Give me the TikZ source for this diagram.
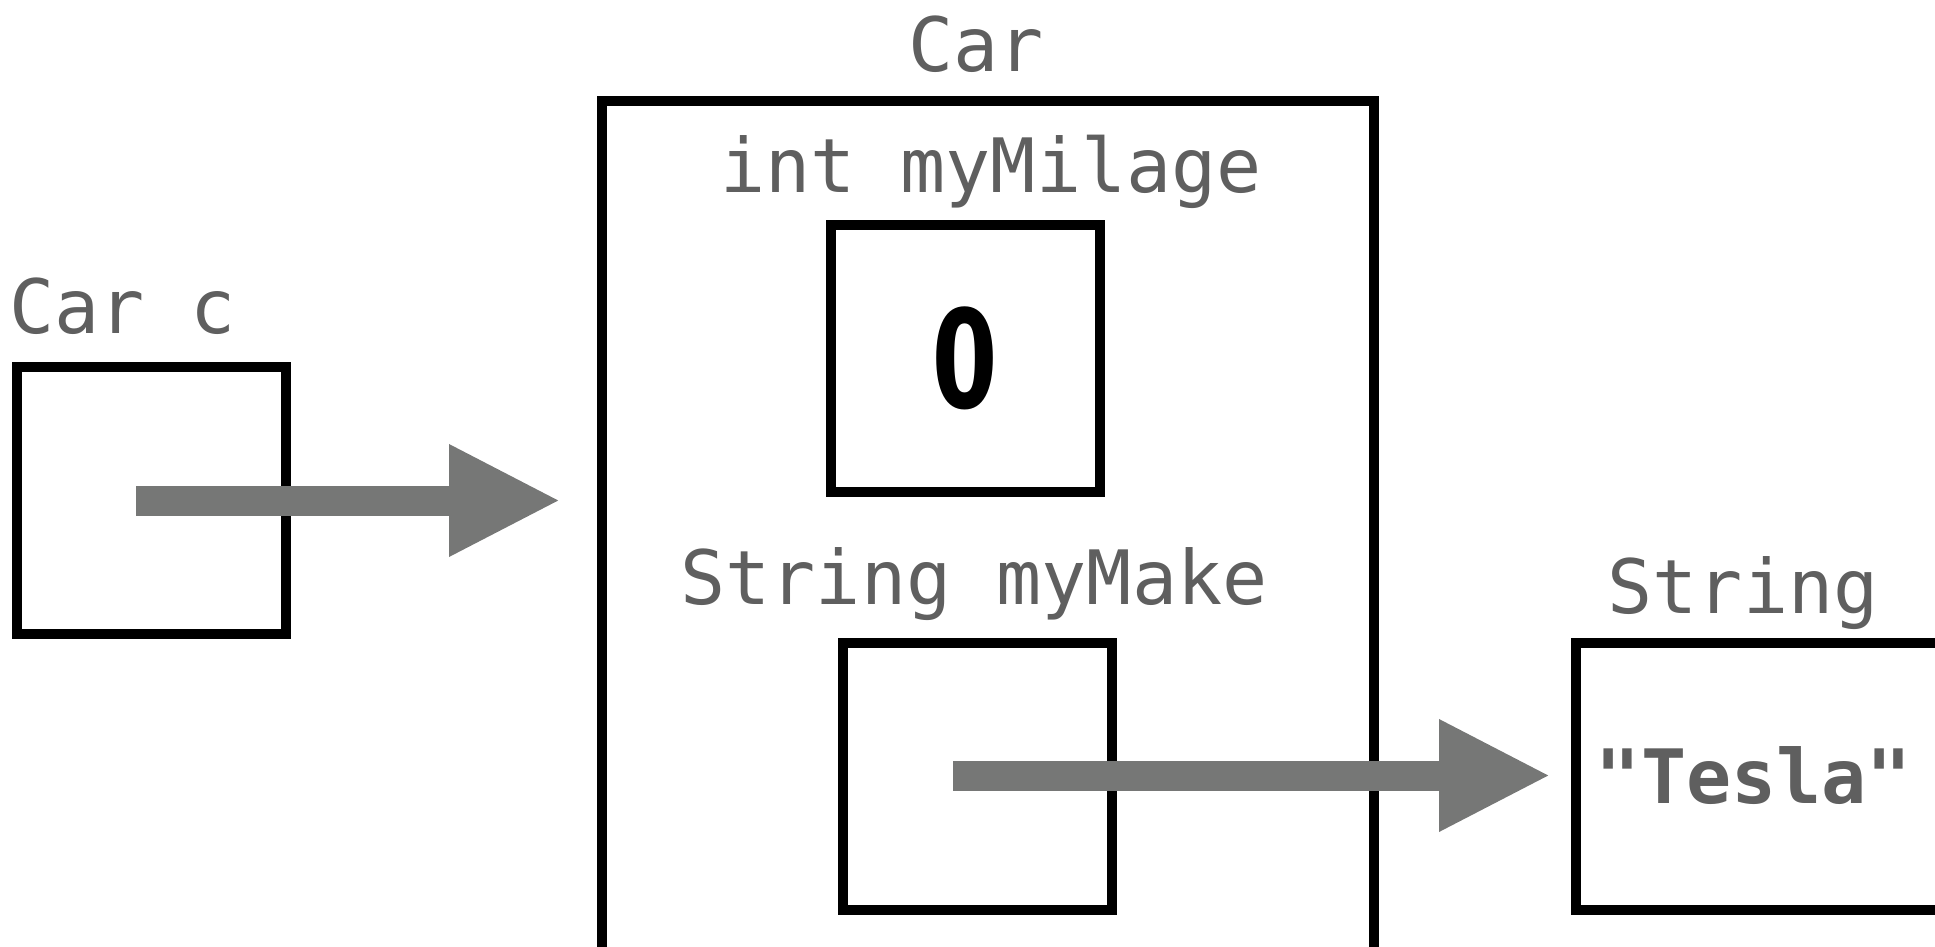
\documentclass[tikz,border=0pt]{standalone}
\usepackage{fontspec}
\setmonofont{DejaVu Sans Mono}
\newfontfamily\zerofont{Fira Sans}
\usetikzlibrary{arrows.meta}
\definecolor{labelgray}{RGB}{95,95,95}
\definecolor{arrowgray}{RGB}{118,119,118}
\tikzset{
 box/.style={draw=black, line width=5pt, inner sep=0pt, outer sep=0pt},
 lbl/.style={font=\ttfamily\fontsize{37.5pt}{40pt}\selectfont, text=labelgray, inner sep=0pt, anchor=base},
 ptr/.style={draw=arrowgray, line width=15pt, -{Triangle[length=56pt 0 0,width=52pt 0 0]}},
}
\begin{document}
\begin{tikzpicture}[x=0.5pt,y=-0.5pt]
\useasboundingbox (0,0) rectangle (1935,947);
% boxes
\node[box, minimum width=134.5pt, minimum height=133.5pt] (carc) at (151.5,500.5) {};
\node[box, minimum width=386pt, minimum height=426pt] (carobj) at (988,527) {};
\node[box, minimum width=134.5pt, minimum height=133.5pt] (milage) at (965,358.5) {};
\node[box, minimum width=134.5pt, minimum height=133.5pt] (make) at (977.5,776.5) {};
\node[box, minimum width=192pt, minimum height=133.5pt] (strobj) at (1768,776.5) {};
% labels
\node[lbl, anchor=base west] (lcarc) at (9,333) {Car c};
\node[lbl] (lcar) at (976,72) {Car};
\node[lbl] (lmilage) at (991,192) {int myMilage};
\node[lbl] (lmake) at (974,604) {String myMake};
\node[lbl] (lstr) at (1743,613) {String};
\node[lbl, font=\ttfamily\bfseries\fontsize{37.5pt}{40pt}\selectfont] (tesla) at (1754,803) {"Tesla"};
\node[inner sep=0pt, font=\zerofont\bfseries\fontsize{73pt}{80pt}\selectfont] (zero) at (965,358) {\scalebox{0.76}[1]{0}};
% pointers
\coordinate (p1s) at (136,500.5);
\coordinate (p1e) at (561,500.5);
\coordinate (p2s) at (953,775.5);
\coordinate (p2e) at (1551,775.5);
\draw[ptr] (p1s) -- (p1e);
\draw[ptr] (p2s) -- (p2e);
\end{tikzpicture}
\end{document}
